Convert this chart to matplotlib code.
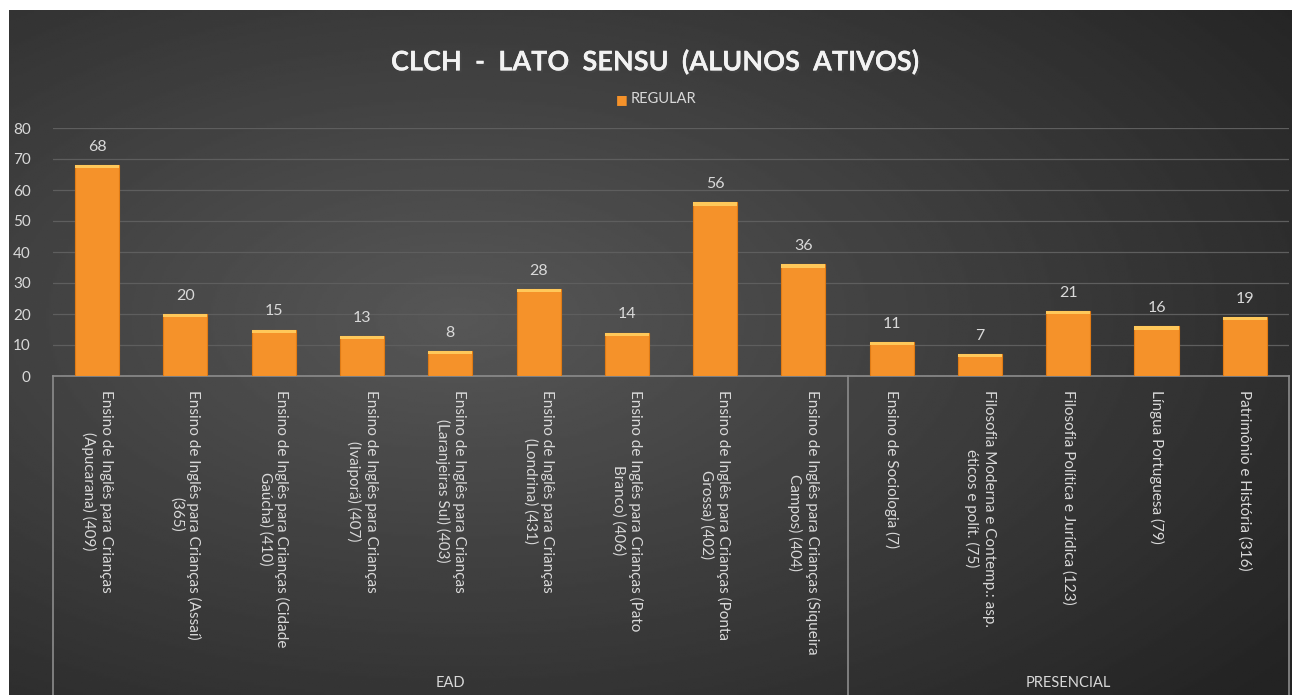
import numpy as np
import matplotlib.pyplot as plt
import matplotlib.patheffects as pe
from matplotlib.transforms import blended_transform_factory

plt.rcParams['font.family'] = ['Lato', 'DejaVu Sans']

# dados
cursos = [
    'Ensino de Inglês para Crianças\n(Apucarana) (409)',
    'Ensino de Inglês para Crianças (Assaí)\n(365)',
    'Ensino de Inglês para Crianças (Cidade\nGaúcha) (410)',
    'Ensino de Inglês para Crianças\n(Ivaiporã) (407)',
    'Ensino de Inglês para Crianças\n(Laranjeiras Sul) (403)',
    'Ensino de Inglês para Crianças\n(Londrina) (431)',
    'Ensino de Inglês para Crianças (Pato\nBranco) (406)',
    'Ensino de Inglês para Crianças (Ponta\nGrossa) (402)',
    'Ensino de Inglês para Crianças (Siqueira\nCampos) (404)',
    'Ensino de Sociologia (7)',
    'Filosofia Moderna e Contemp.: asp.\néticos e polít. (75)',
    'Filosofia Política e Jurídica (123)',
    'Língua Portuguesa (79)',
    'Patrimônio e História (316)',
]
regular = [68, 20, 15, 13, 8, 28, 14, 56, 36, 11, 7, 21, 16, 19]
grupos = ['EAD', 'PRESENCIAL']
tamanho_grupos = [9, 5]

txt_color = '#d9d9d9'

fig = plt.figure(figsize=(12.98, 6.95), dpi=100)
fig.patch.set_facecolor('white')

# sfondo scuro con gradiente radiale
bg = fig.add_axes([9 / 1298, 0, (1292 - 9) / 1298, 1 - 10 / 695])
yy, xx = np.mgrid[0:1:300j, 0:1:600j]
dist = np.sqrt(((xx - 0.35) / 0.9) ** 2 + ((yy - 0.45) / 0.9) ** 2)
shade = np.clip(0.34 - 0.22 * dist, 0.14, 0.34)
bg.imshow(shade, cmap='gray', vmin=0, vmax=1, aspect='auto', extent=[0, 1, 0, 1])
bg.set_axis_off()

ax = fig.add_axes([53 / 1298, 1 - 376 / 695, (1289 - 53) / 1298, (376 - 128) / 695])
ax.set_facecolor('none')

x = np.arange(len(regular))
vals = np.array(regular)
ax.bar(x, vals, width=0.5, color='#f5922a', edgecolor='#e07b15', linewidth=0.8, zorder=3)
cap = np.minimum(1.0, vals)
ax.bar(x, cap, bottom=vals - cap, width=0.5, color='#ffc85a', zorder=4)

for xi, v in zip(x, regular):
    ax.annotate(str(v), (xi, v), xytext=(0, 8), textcoords='offset points',
                ha='center', va='bottom', color=txt_color, fontsize=11.5)

ax.set_ylim(0, 80)
ax.set_xlim(-0.5, len(regular) - 0.5)
ax.set_yticks(range(0, 81, 10))
ax.yaxis.grid(True, color='#5e5e5e', linewidth=0.9, zorder=0)
ax.tick_params(axis='y', length=0, pad=16, labelcolor=txt_color, labelsize=11)

ax.set_xticks(x)
ax.set_xticklabels(cursos, rotation=270, ha='center', va='top',
                   multialignment='center', color=txt_color, fontsize=11)
ax.tick_params(axis='x', length=0, pad=10)

for s in ['top', 'right', 'left']:
    ax.spines[s].set_visible(False)
ax.spines['bottom'].set_color('#8c8c8c')
ax.spines['bottom'].set_linewidth(1.2)

# linee di separazione dei gruppi
ymin = -(695 - 376) / (376 - 128)
confini = np.concatenate([[0], np.cumsum(tamanho_grupos)]) - 0.5
for c in confini:
    ax.axvline(c, ymin=ymin, ymax=0, color='#8c8c8c', linewidth=1.2, clip_on=False)

tr = blended_transform_factory(ax.transData, fig.transFigure)
for g, a, b in zip(grupos, confini[:-1], confini[1:]):
    fig.text((a + b) / 2, 1 - 683 / 695, g, transform=tr, ha='center', va='center',
             color=txt_color, fontsize=10.5)

fig.text(655 / 1298, 1 - 62 / 695, 'CLCH  -  LATO  SENSU  (ALUNOS  ATIVOS)',
         ha='center', va='center', color='#f2f2f2', fontsize=19.5, fontweight='bold',
         path_effects=[pe.withSimplePatchShadow(offset=(1.5, -1.5), alpha=0.5), pe.Normal()])

# legenda
fig.text(628 / 1298, 1 - 99 / 695, '\u25a0', ha='right', va='center', color='#f5922a', fontsize=9)
fig.text(631 / 1298, 1 - 99 / 695, 'REGULAR', ha='left', va='center', color=txt_color, fontsize=10.5)

plt.savefig('out.png', dpi=100)
